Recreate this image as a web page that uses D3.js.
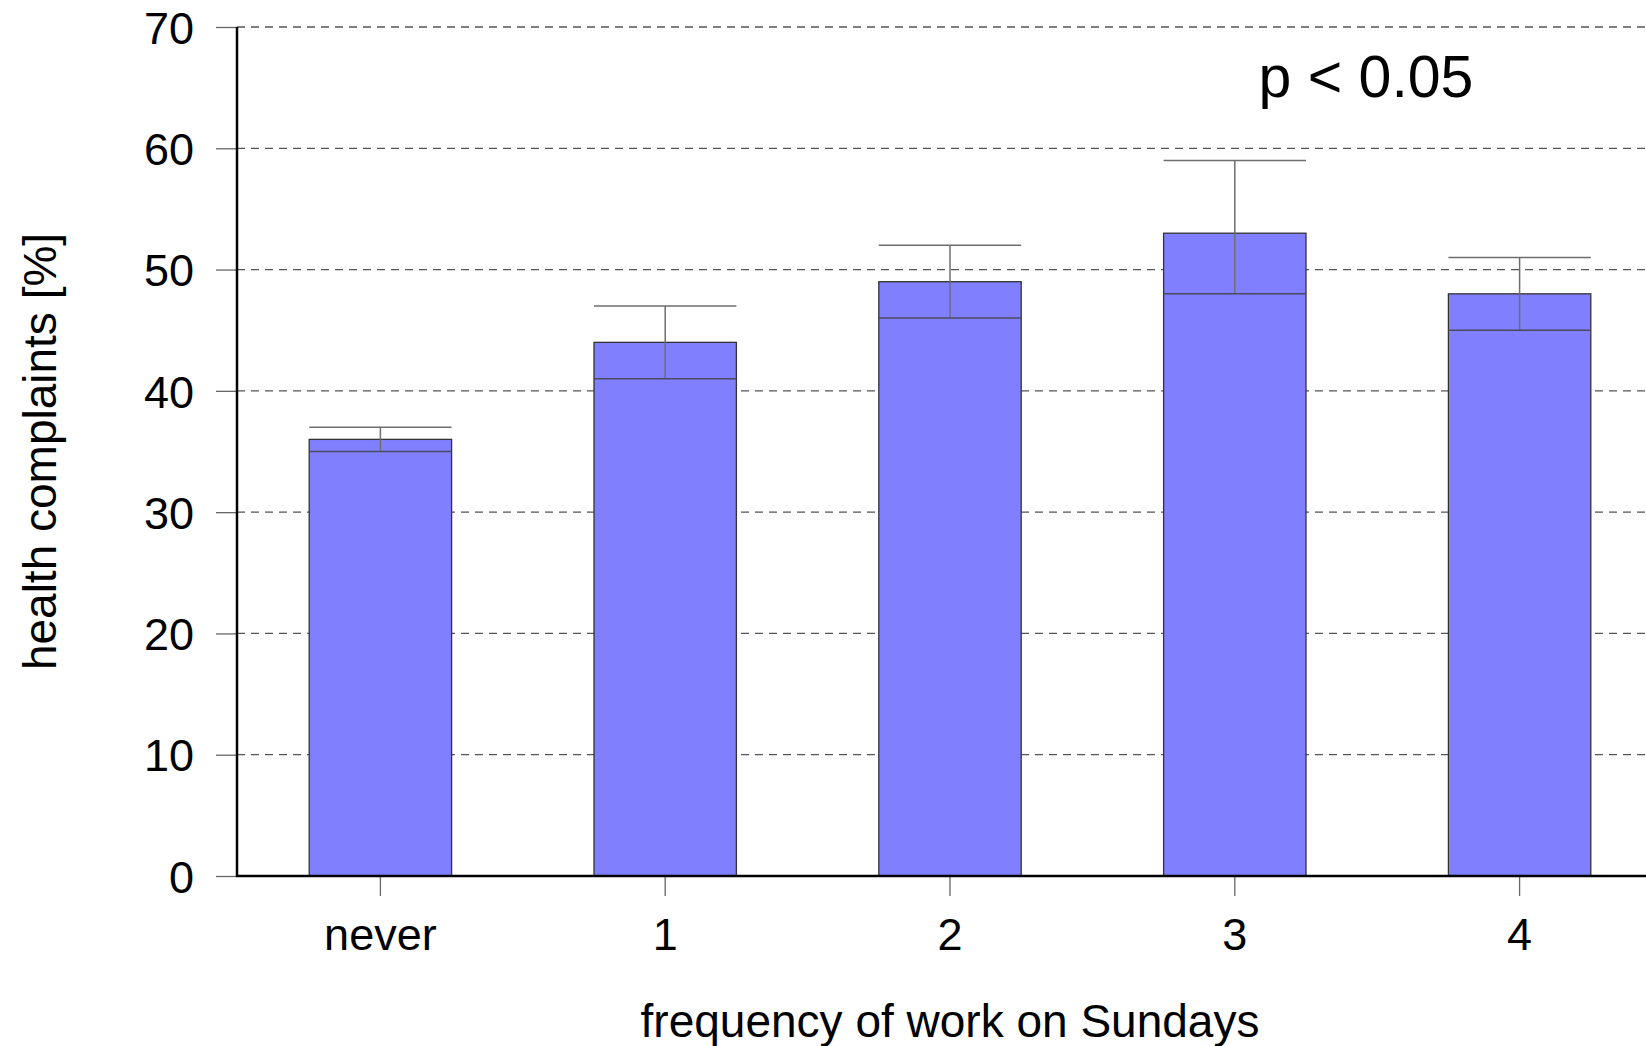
<!DOCTYPE html>
<html>
<head>
<meta charset="utf-8">
<script src="https://cdn.jsdelivr.net/npm/d3@7"></script>
<style>
  html, body { margin: 0; padding: 0; background: #fff; }
  svg { display: block; }
  text { font-family: "Liberation Sans", Arial, Helvetica, sans-serif; fill: #000; }
</style>
</head>
<body>
<svg id="chart" width="1646" height="1046"></svg>
<script>
const categories = ["never", "1", "2", "3", "4"];
const values = [36, 44, 49, 53, 48];
const errLow = [35, 41, 46, 48, 45];
const errHigh = [37, 47, 52, 59, 51];
const yTicks = [0, 10, 20, 30, 40, 50, 60, 70];
const xTitle = "frequency of work on Sundays";
const yTitle = "health complaints [%]";
const note = "p < 0.05";

const W = 1646, H = 1046;
const m = { left: 237, top: 27, bottom: 876 };
const svg = d3.select("#chart");

const x = d3.scaleBand().domain(categories).range([m.left + 1, m.left + 1 + 5 * 284.8])
  .paddingInner(0.5).paddingOuter(0.25);
const y = d3.scaleLinear().domain([0, 70]).range([m.bottom, m.top]);

// grid lines
svg.append("g").selectAll("line").data(yTicks.filter(d => d > 0)).join("line")
  .attr("x1", m.left).attr("x2", W)
  .attr("y1", d => y(d)).attr("y2", d => y(d))
  .attr("stroke", "#555").attr("stroke-width", 1.3)
  .attr("stroke-dasharray", "8,6");

// y ticks & labels
const yAxis = svg.append("g").attr("transform", `translate(${m.left},0)`)
  .call(d3.axisLeft(y).tickValues(yTicks).tickSize(21).tickPadding(22).tickFormat(d3.format("d")));
yAxis.select(".domain").remove();
yAxis.selectAll(".tick line").attr("stroke", "#666").attr("stroke-width", 1.3);
yAxis.selectAll(".tick text").attr("font-size", 45).attr("fill", "#000")
  .attr("font-family", '"Liberation Sans", Arial, sans-serif').attr("dy", "0.36em");

// bars
svg.append("g").selectAll("rect").data(categories).join("rect")
  .attr("x", d => x(d)).attr("width", x.bandwidth())
  .attr("y", (d, i) => y(values[i])).attr("height", (d, i) => y(0) - y(values[i]))
  .attr("fill", "#8080ff").attr("stroke", "#333").attr("stroke-width", 1.3);

// error bars
const eb = svg.append("g").attr("stroke", "#6e6e6e").attr("stroke-width", 1.5).attr("fill", "none");
categories.forEach((c, i) => {
  const cx = x(c) + x.bandwidth() / 2;
  eb.append("line").attr("x1", cx).attr("x2", cx).attr("y1", y(errHigh[i])).attr("y2", y(errLow[i]));
  eb.append("line").attr("x1", x(c)).attr("x2", x(c) + x.bandwidth()).attr("y1", y(errHigh[i])).attr("y2", y(errHigh[i]));
  eb.append("line").attr("x1", x(c)).attr("x2", x(c) + x.bandwidth()).attr("y1", y(errLow[i])).attr("y2", y(errLow[i]))
    .attr("stroke", "#4a4a60");
});

// x ticks & labels
const xAxis = svg.append("g").attr("transform", `translate(0,${m.bottom})`)
  .call(d3.axisBottom(x).tickSize(20).tickPadding(22));
xAxis.select(".domain").remove();
xAxis.selectAll(".tick line").attr("stroke", "#666").attr("stroke-width", 1.3);
xAxis.selectAll(".tick text").attr("font-size", 45).attr("fill", "#000")
  .attr("font-family", '"Liberation Sans", Arial, sans-serif').attr("dy", "0.71em");

// axis lines
svg.append("line").attr("x1", m.left).attr("x2", m.left).attr("y1", m.top).attr("y2", m.bottom + 1)
  .attr("stroke", "#000").attr("stroke-width", 2.5);
svg.append("line").attr("x1", m.left - 1).attr("x2", W).attr("y1", m.bottom).attr("y2", m.bottom)
  .attr("stroke", "#000").attr("stroke-width", 2.5);

// titles
svg.append("text").attr("x", 950).attr("y", 1037).attr("text-anchor", "middle")
  .attr("font-size", 46).text(xTitle);
svg.append("text").attr("transform", `translate(56,${(m.top + m.bottom) / 2}) rotate(-90)`)
  .attr("text-anchor", "middle").attr("font-size", 46).text(yTitle);
svg.append("text").attr("x", 1366).attr("y", 97).attr("text-anchor", "middle")
  .attr("font-size", 59).text(note);
</script>
</body>
</html>
